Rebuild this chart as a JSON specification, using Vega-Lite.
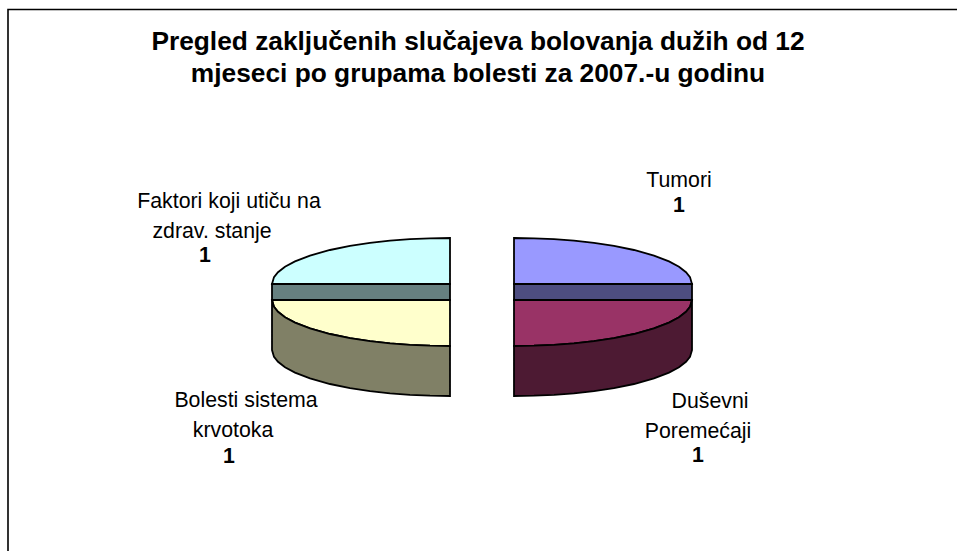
{
"$schema":"https://vega.github.io/schema/vega-lite/v6.json",
"width":957,"height":551,"padding":0,"autosize":{"type":"none"},
"background":"white",
"view":{"stroke":null},
"title":{"text":["Pregled zaključenih slučajeva bolovanja dužih od 12","mjeseci po grupama bolesti za 2007.-u godinu"],"font":"Liberation Sans","fontSize":26.3,"fontWeight":"bold","color":"black","anchor":"middle","lineHeight":32,"offset":0,"dy":87,"dx":-0.5},
"encoding":{"x":{"field":"x","type":"quantitative","scale":{"domain":[0,957],"nice":false,"zero":false},"axis":null},"y":{"field":"y","type":"quantitative","scale":{"domain":[551,0],"nice":false,"zero":false},"axis":null}},
"layer":[
{"data":{"values":[{"x":8,"y":551,"o":1},{"x":8,"y":9.5,"o":2},{"x":957,"y":9.5,"o":3}]},
 "mark":{"type":"line","color":"black","strokeWidth":1.6},
 "encoding":{"order":{"field":"o"}}},
{"data":{"values":[
{"s":"A","x":450,"y":238,"y2":284},{"s":"A","x":430,"y":238.3,"y2":284},{"s":"A","x":410,"y":239.2,"y2":284},{"s":"A","x":390,"y":240.7,"y2":284},{"s":"A","x":370,"y":242.9,"y2":284},{"s":"A","x":350,"y":245.9,"y2":284},{"s":"A","x":330,"y":250,"y2":284},{"s":"A","x":310,"y":255.6,"y2":284},{"s":"A","x":295,"y":261.4,"y2":284},{"s":"A","x":285,"y":266.7,"y2":284},{"s":"A","x":278,"y":272.2,"y2":284},{"s":"A","x":274,"y":277.1,"y2":284},{"s":"A","x":272,"y":284,"y2":284},
{"s":"B","x":272,"y":284,"y2":300},{"s":"B","x":450,"y":284,"y2":300},
{"s":"C","x":272,"y":300,"y2":300},{"s":"C","x":274,"y":300,"y2":306.9},{"s":"C","x":278,"y":300,"y2":311.8},{"s":"C","x":285,"y":300,"y2":317.3},{"s":"C","x":295,"y":300,"y2":322.6},{"s":"C","x":310,"y":300,"y2":328.4},{"s":"C","x":330,"y":300,"y2":334},{"s":"C","x":350,"y":300,"y2":338.1},{"s":"C","x":370,"y":300,"y2":341.1},{"s":"C","x":390,"y":300,"y2":343.3},{"s":"C","x":410,"y":300,"y2":344.8},{"s":"C","x":430,"y":300,"y2":345.7},{"s":"C","x":450,"y":300,"y2":346},
{"s":"D","x":272,"y":300,"y2":350},{"s":"D","x":274,"y":306.9,"y2":356.9},{"s":"D","x":278,"y":311.8,"y2":361.8},{"s":"D","x":285,"y":317.3,"y2":367.3},{"s":"D","x":295,"y":322.6,"y2":372.6},{"s":"D","x":310,"y":328.4,"y2":378.4},{"s":"D","x":330,"y":334,"y2":384},{"s":"D","x":350,"y":338.1,"y2":388.1},{"s":"D","x":370,"y":341.1,"y2":391.1},{"s":"D","x":390,"y":343.3,"y2":393.3},{"s":"D","x":410,"y":344.8,"y2":394.8},{"s":"D","x":430,"y":345.7,"y2":395.7},{"s":"D","x":450,"y":346,"y2":396},
{"s":"E","x":514,"y":238,"y2":284},{"s":"E","x":534,"y":238.3,"y2":284},{"s":"E","x":554,"y":239.2,"y2":284},{"s":"E","x":574,"y":240.7,"y2":284},{"s":"E","x":594,"y":242.9,"y2":284},{"s":"E","x":614,"y":245.9,"y2":284},{"s":"E","x":634,"y":250,"y2":284},{"s":"E","x":654,"y":255.6,"y2":284},{"s":"E","x":669,"y":261.4,"y2":284},{"s":"E","x":679,"y":266.7,"y2":284},{"s":"E","x":686,"y":272.2,"y2":284},{"s":"E","x":690,"y":277.1,"y2":284},{"s":"E","x":692,"y":284,"y2":284},
{"s":"F","x":514,"y":284,"y2":300},{"s":"F","x":692,"y":284,"y2":300},
{"s":"G","x":514,"y":300,"y2":346},{"s":"G","x":534,"y":300,"y2":345.7},{"s":"G","x":554,"y":300,"y2":344.8},{"s":"G","x":574,"y":300,"y2":343.3},{"s":"G","x":594,"y":300,"y2":341.1},{"s":"G","x":614,"y":300,"y2":338.1},{"s":"G","x":634,"y":300,"y2":334},{"s":"G","x":654,"y":300,"y2":328.4},{"s":"G","x":669,"y":300,"y2":322.6},{"s":"G","x":679,"y":300,"y2":317.3},{"s":"G","x":686,"y":300,"y2":311.8},{"s":"G","x":690,"y":300,"y2":306.9},{"s":"G","x":692,"y":300,"y2":300},
{"s":"H","x":514,"y":346,"y2":396},{"s":"H","x":534,"y":345.7,"y2":395.7},{"s":"H","x":554,"y":344.8,"y2":394.8},{"s":"H","x":574,"y":343.3,"y2":393.3},{"s":"H","x":594,"y":341.1,"y2":391.1},{"s":"H","x":614,"y":338.1,"y2":388.1},{"s":"H","x":634,"y":334,"y2":384},{"s":"H","x":654,"y":328.4,"y2":378.4},{"s":"H","x":669,"y":322.6,"y2":372.6},{"s":"H","x":679,"y":317.3,"y2":367.3},{"s":"H","x":686,"y":311.8,"y2":361.8},{"s":"H","x":690,"y":306.9,"y2":356.9},{"s":"H","x":692,"y":300,"y2":350}
]},
 "mark":{"type":"area","stroke":"black","strokeWidth":1.8,"opacity":1,"fillOpacity":1,"interpolate":"linear"},
 "encoding":{"y2":{"field":"y2"},
 "color":{"field":"s","type":"nominal","legend":null,"scale":{"domain":["A","B","C","D","E","F","G","H"],"range":["#CCFFFF","#668080","#FFFFCC","#808066","#9999FF","#4D4D80","#993366","#4D1A33"]}}}},
{"data":{"values":[
{"t":"Faktori koji utiču na","x":229,"y":208},{"t":"zdrav. stanje","x":212,"y":238},
{"t":"Tumori","x":679,"y":187},
{"t":"Bolesti sistema","x":246,"y":407},{"t":"krvotoka","x":233,"y":437},
{"t":"Duševni","x":710,"y":408},{"t":"Poremećaji","x":698,"y":438}]},
 "mark":{"type":"text","font":"Liberation Sans","fontSize":21.3,"color":"black","align":"center","baseline":"alphabetic"},
 "encoding":{"text":{"field":"t"}}},
{"data":{"values":[{"t":"1","x":205,"y":262},{"t":"1","x":679,"y":212},{"t":"1","x":229,"y":463},{"t":"1","x":698,"y":462}]},
 "mark":{"type":"text","font":"Liberation Sans","fontSize":21.3,"fontWeight":"bold","color":"black","align":"center","baseline":"alphabetic"},
 "encoding":{"text":{"field":"t"}}}
]}
